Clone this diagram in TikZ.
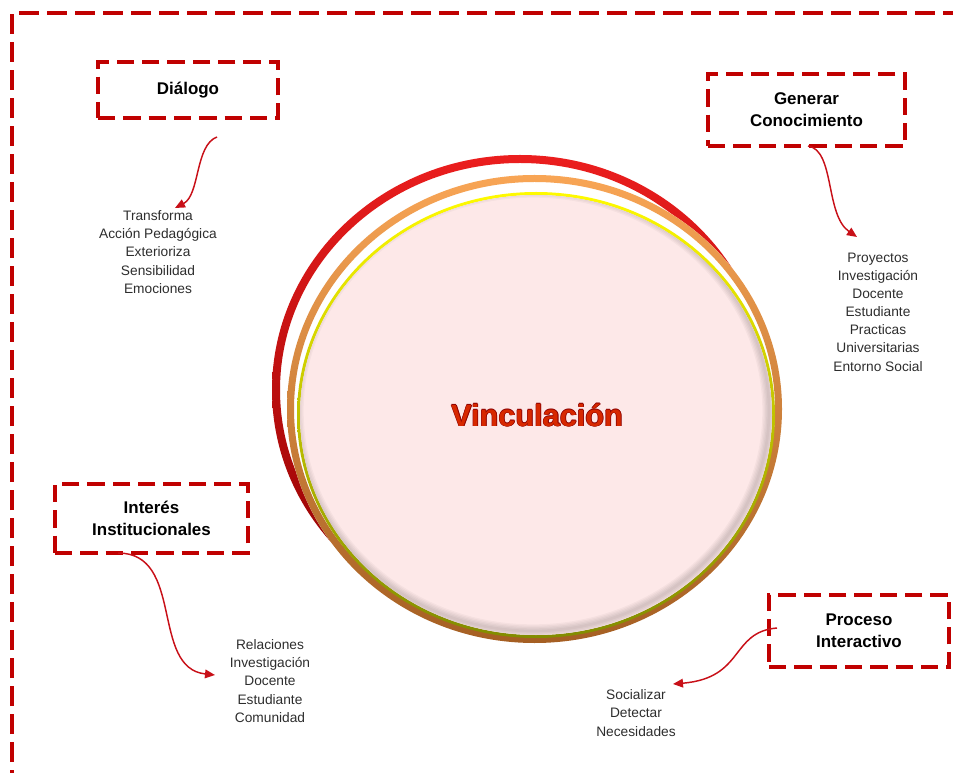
\documentclass[tikz,border=0pt]{standalone}
\usepackage{fontspec}
\setmainfont{Liberation Sans}
\usetikzlibrary{arrows.meta}
\definecolor{frameRed}{RGB}{192,0,0}
\definecolor{arrRed}{RGB}{200,16,24}
\definecolor{txtGray}{RGB}{45,45,45}
\definecolor{pinkFill}{RGB}{253,232,232}
\definecolor{ringRedA}{RGB}{235,30,30}
\definecolor{ringRedB}{RGB}{140,0,0}
\definecolor{ringOrA}{RGB}{248,165,85}
\definecolor{ringOrB}{RGB}{165,95,35}
\definecolor{ringYeA}{RGB}{255,250,0}
\definecolor{ringYeB}{RGB}{130,140,0}
\definecolor{vincFill}{RGB}{215,40,0}
\definecolor{vincEdge}{RGB}{140,0,0}
\begin{document}
\begin{tikzpicture}[x=0.75pt,y=-0.75pt,
  dashbox/.style={draw=frameRed, line width=3pt, dash pattern=on 13pt off 6pt,
    align=center, font=\bfseries\fontsize{12.7}{16.5}\selectfont, text=black, inner sep=0pt},
  itemlist/.style={align=center, font=\fontsize{10.3}{13.6}\selectfont, text=txtGray, inner sep=0pt},
  conn/.style={draw=arrRed, line width=1.1pt, -{Triangle[length=7.5pt,width=6.5pt]}},
  vtext/.style={font=\bfseries\fontsize{23}{26}\selectfont, inner sep=0pt}]
\path[use as bounding box] (0,0) rectangle (953,773);
\begin{scope}
\clip (0,0) rectangle (953,773);
\draw[frameRed, line width=3pt, dash pattern=on 15pt off 6pt] (12,790) -- (12,13) -- (970,13);
\end{scope}

% rings
\fill[white] (520,390) ellipse (248 and 235);
\shade[even odd rule, top color=ringRedA, bottom color=ringRedB]
  (520,390) ellipse (248 and 235) (520,390) ellipse (240 and 227);
\fill[white] (534.5,409) ellipse (247.5 and 234);
\shade[even odd rule, top color=ringOrA, bottom color=ringOrB]
  (534.5,409) ellipse (247.5 and 234) (534.5,409) ellipse (240.5 and 227);
\shade[even odd rule, top color=ringYeA, bottom color=ringYeB]
  (536,415) ellipse (239 and 223) (536,415) ellipse (236 and 220);
\fill[pinkFill] (536,415) ellipse (236 and 220);
\begin{scope}
  \clip (536,415) ellipse (236 and 220);
  \foreach \w in {2,4,6,8,10}
    \draw[black, opacity=0.03, line width=\w pt] (533,411) ellipse (236 and 220);
\end{scope}

% centre label
\foreach \dx/\dy in {-0.6/0,0.6/0,0/-0.6,0/0.6,0.8/0.8}
  \node[vtext, text=vincEdge] at (537+\dx,415+\dy) {Vinculación};
\node[vtext, text=vincFill] (vinc) at (537,415) {Vinculación};

% boxes
\node[dashbox, minimum width=135pt, minimum height=42pt] (dlg) at (188,90) {Diálogo};
\node[dashbox, minimum width=147.75pt, minimum height=54pt] (gen) at (806.5,110) {Generar\\Conocimiento};
\node[dashbox, minimum width=144.75pt, minimum height=51.75pt] (int) at (151.5,518.5) {Interés\\Institucionales};
\node[dashbox, minimum width=135pt, minimum height=54pt] (pro) at (859,631) {Proceso\\Interactivo};

% lists
\node[itemlist] (ldlg) at (158,252) {Transforma\\Acción Pedagógica\\Exterioriza\\Sensibilidad\\Emociones};
\node[itemlist] (lgen) at (878,312) {Proyectos\\Investigación\\Docente\\Estudiante\\Practicas\\Universitarias\\Entorno Social};
\node[itemlist] (lint) at (270,681) {Relaciones\\Investigación\\Docente\\Estudiante\\Comunidad};
\node[itemlist] (lpro) at (636,713) {Socializar\\Detectar\\Necesidades};

% connectors
\coordinate (dlgOut) at (217,137);
\coordinate (ldlgIn) at (175,208);
\draw[conn] (dlgOut) .. controls (195,145) and (200,195) .. (ldlgIn);
\coordinate (genOut) at (808,146);
\coordinate (lgenIn) at (857,237);
\draw[conn] (genOut) .. controls (835,150) and (825,215) .. (lgenIn);
\coordinate (intOut) at (118,553);
\coordinate (lintIn) at (215,675);
\draw[conn] (intOut) .. controls (185,553) and (150,668) .. (lintIn);
\coordinate (proOut) at (777,628);
\coordinate (lproIn) at (673,684);
\draw[conn] (proOut) .. controls (730,632) and (745,678) .. (lproIn);
\end{tikzpicture}
\end{document}
